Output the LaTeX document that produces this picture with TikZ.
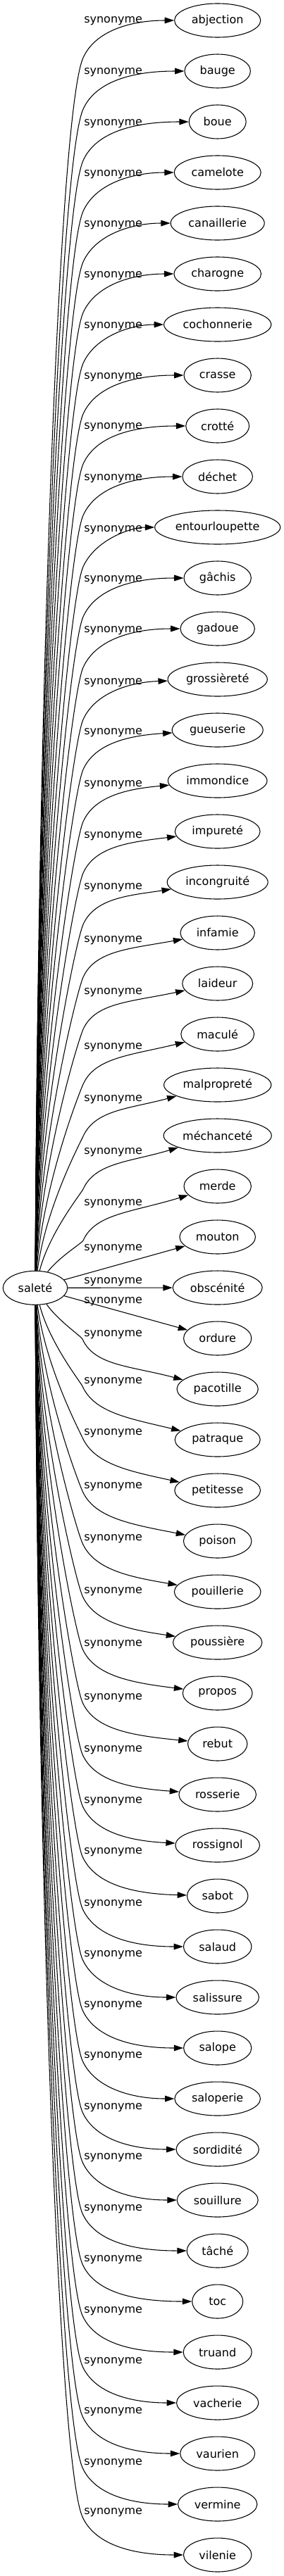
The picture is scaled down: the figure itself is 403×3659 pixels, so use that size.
\documentclass[tikz,border=0pt]{standalone}
\usepackage{fontspec}
\setmainfont{DejaVu Sans}
\usetikzlibrary{shapes.geometric,arrows.meta}
\begin{document}
\fontsize{12pt}{14pt}\selectfont
\begin{tikzpicture}[x=0.75pt,y=-0.75pt,
  ell/.style={draw, ellipse, line width=0.8pt, inner sep=0pt, minimum height=36pt, font=\fontsize{12pt}{14pt}\selectfont},
  lab/.style={anchor=base west, inner sep=0pt, font=\fontsize{12pt}{14pt}\selectfont},
  syn/.style={draw, line width=0.8pt, -{Triangle[length=10pt,width=6.5pt]}}]
\useasboundingbox (0,0) rectangle (403,3659);
\pgfmathsetmacro\mws{24.2+1.22*width("saleté")}
\node[ell, minimum width=\mws pt] (s) at (50,1829.3) {saleté};
\foreach \i/\nm/\L in {0/abjection/27,1/bauge/100,2/boue/173,3/camelote/245,4/canaillerie/317,5/charogne/389,6/cochonnerie/461,7/crasse/533,8/crotté/604,9/déchet/677,10/entourloupette/750,11/gâchis/821,12/gadoue/893,13/grossièreté/967,14/gueuserie/1038,15/immondice/1112,16/impureté/1185,17/incongruité/1258,18/infamie/1333,19/laideur/1407,20/maculé/1485,21/malpropreté/1559,22/méchanceté/1634,23/merde/1707,24/mouton/1771,25/obscénité/1818,26/ordure/1846,27/pacotille/1893,28/patraque/1960,29/petitesse/2033,30/poison/2109,31/pouillerie/2183,32/poussière/2258,33/propos/2333,34/rebut/2409,35/rosserie/2483,36/rossignol/2556,37/sabot/2628,38/salaud/2702,39/salissure/2774,40/salope/2846,41/saloperie/2918,42/sordidité/2991,43/souillure/3062,44/tâché/3135,45/toc/3207,46/truand/3280,47/vacherie/3352,48/vaurien/3423,49/vermine/3496,50/vilenie/3566}{
  \pgfmathsetmacro\N{29+72*\i}
  \pgfmathsetmacro\mw{max(54,24.2+1.22*width("\nm"))}
  \node[ell, minimum width=\mw pt] (n\i) at (308.7,\N) {\nm};
  \node[lab] (l\i) at (119,\L+5) {synonyme};
  \ifnum\i<24
    \pgfmathsetmacro\Wy{\L+55}
    \pgfmathsetmacro\D{1806-\Wy}
    \pgfmathsetmacro\dx{2+3000/(\D+50)}
    \pgfmathsetmacro\Pya{1806-0.47*\D}
    \pgfmathsetmacro\k{max(0.1,\D*0.00118)}
    \pgfmathsetmacro\Pxb{118-17*\k}
    \pgfmathsetmacro\Pyb{\Wy+38*\k}
    \pgfmathsetmacro\E{2.5*min(15,1.5*max(0,\i-12))}
    \coordinate (w\i) at (118,\Wy);
    \draw[syn] (s) .. controls (50+\dx,\Pya) and (\Pxb,\Pyb) .. (w\i) .. controls (135,\Wy-38) and (185,\N+\E) .. (n\i);
  \else
    \ifnum\i>26
      \pgfmathsetmacro\Wy{\L+9}
      \pgfmathsetmacro\D{\Wy-1852}
      \pgfmathsetmacro\dx{2+3000/(\D+50)}
      \pgfmathsetmacro\Pya{1852+0.47*\D}
      \pgfmathsetmacro\k{max(0.1,\D*0.00118)}
      \pgfmathsetmacro\Pxb{117-17*\k}
      \pgfmathsetmacro\Pyb{\Wy-38*\k}
      \pgfmathsetmacro\E{-2.5*min(15,1.2*max(0,38-\i))}
      \coordinate (w\i) at (117,\Wy);
      \draw[syn] (s) .. controls (50+\dx,\Pya) and (\Pxb,\Pyb) .. (w\i) .. controls (134,\Wy+38) and (185,\N+\E) .. (n\i);
    \else
      \draw[syn] (s) -- (n\i);
    \fi
  \fi
}
\end{tikzpicture}
\end{document}
